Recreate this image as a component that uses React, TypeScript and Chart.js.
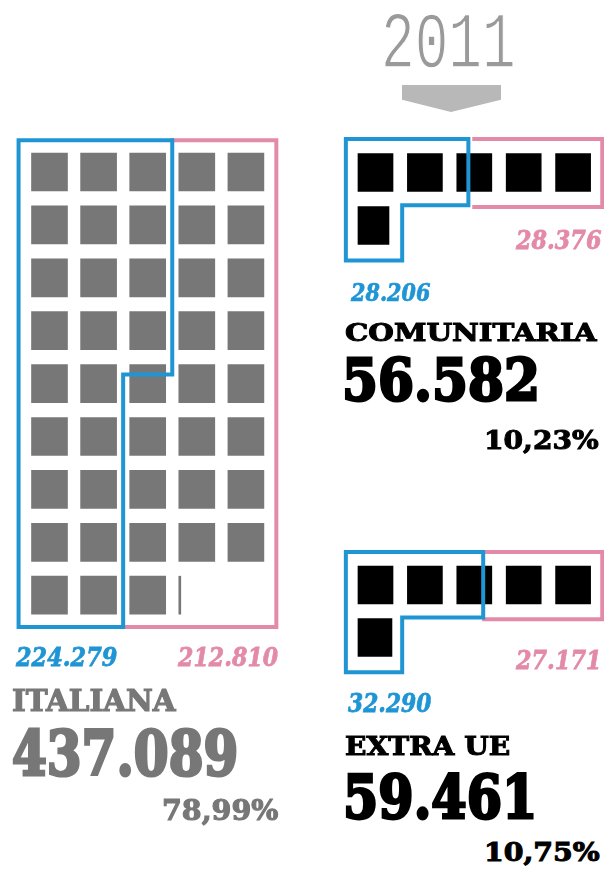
import React, { useEffect, useRef } from "react";
import { Chart, registerables } from "chart.js";

Chart.register(...registerables);

// ---------------- DATA ----------------
const YEAR = "2011";
const categories = ["ITALIANA", "COMUNITARIA", "EXTRA UE"];
const totals = [437089, 56582, 59461];
const blueValues = [224279, 28206, 32290];
const pinkValues = [212810, 28376, 27171];
const shares = [78.99, 10.23, 10.75];
// squares as drawn in the picture (1 square ≈ 10.000)
const squaresDrawn = [43.055, 5.885, 5.97];
const UNIT = 10000;
// blue/pink split along the first row of the two small waffles (in squares)
const splitRow1 = [2.38, 2.68];
const pinkStartRow1 = [2.5, 2.7];

// ---------------- STYLE ----------------
const BLUE = "#1f95d4";
const PINK = "#e38aa9";
const GRAY = "#777777";
const LIGHT = "#9a9a9a";
const SERIF = "'DejaVu Serif', serif";
const MONO = "'Liberation Mono', monospace";

const fmtInt = (n: number) => String(n).replace(/\B(?=(\d{3})+(?!\d))/g, ".");
const fmtPct = (v: number) => v.toFixed(2).replace(".", ",") + "%";

type Panel = {
  x0: number; ux: number; y0: number; uy: number;
  left: number; top: number; w: number; h: number;
  cols: number; sw: number; barPx: number; color: string;
};

const panels: Panel[] = [
  { x0: 24.95, ux: 49.1, y0: 145.55, uy: 52.9, left: 0, top: 120, w: 300, h: 530, cols: 5, sw: 0.733, barPx: 38, color: GRAY },
  { x0: 350.8, ux: 49.4, y0: 146, uy: 53, left: 330, top: 120, w: 274, h: 160, cols: 5, sw: 0.709, barPx: 38, color: "#000000" },
  { x0: 350.8, ux: 49.4, y0: 558.75, uy: 52.5, left: 330, top: 530, w: 274, h: 160, cols: 5, sw: 0.709, barPx: 38, color: "#000000" },
];

function squarePoints(n: number, p: Panel) {
  const pts: { x: [number, number]; y: number }[] = [];
  const inset = (1 - p.sw) / 2;
  for (let i = 0; i < Math.ceil(n); i++) {
    const frac = Math.min(1, n - i);
    const col = i % p.cols;
    const row = Math.floor(i / p.cols);
    pts.push({ x: [col + inset, col + inset + frac * p.sw], y: row + 0.5 });
  }
  return pts;
}

function outlines(idx: number) {
  if (idx === 0) {
    const L = -0.13, R = 5.12, T = -0.1, B = 9.1;
    const rows = 9;
    const cells = blueValues[0] / UNIT; // column-major
    const full = Math.floor(cells / rows);
    const rem = cells - full * rows;
    const blue = [
      { x: L, y: T }, { x: full + 1, y: T }, { x: full + 1, y: rem - 0.1 }, { x: full, y: rem - 0.1 },
      { x: full, y: B }, { x: L, y: B }, { x: L, y: T },
    ];
    const pink = [{ x: full + 1, y: T }, { x: R, y: T }, { x: R, y: B }, { x: full, y: B }];
    return { blue, pink };
  }
  const k = idx - 1;
  const L = -0.1, R = 5.09, T = -0.13, R1B = 1.12, INNER = 1.04, B = 2.16;
  const s = splitRow1[k];
  const ps = pinkStartRow1[k];
  const blue = [
    { x: L, y: T }, { x: s, y: T }, { x: s, y: R1B }, { x: INNER, y: R1B },
    { x: INNER, y: B }, { x: L, y: B }, { x: L, y: T },
  ];
  const pink = [{ x: ps, y: T }, { x: R, y: T }, { x: R, y: R1B + 0.03 }, { x: ps, y: R1B + 0.03 }];
  return { blue, pink };
}

function Waffle({ idx }: { idx: number }) {
  const ref = useRef<HTMLCanvasElement>(null);
  const p = panels[idx];
  useEffect(() => {
    const { blue, pink } = outlines(idx);
    const lineBase = {
      type: "line" as const,
      indexAxis: "x" as const,
      borderWidth: 4,
      pointRadius: 0,
      fill: false,
      tension: 0,
      borderJoinStyle: "miter" as const,
      borderCapStyle: "square" as const,
    };
    const chart = new Chart(ref.current!, {
      type: "bar",
      data: {
        datasets: [
          { ...lineBase, data: blue, borderColor: BLUE, order: 0 } as any,
          { ...lineBase, data: pink, borderColor: PINK, order: 1 } as any,
          {
            type: "bar",
            data: squarePoints(squaresDrawn[idx], p) as any,
            backgroundColor: p.color,
            borderWidth: 0,
            barThickness: p.barPx,
            grouped: false,
            order: 2,
          } as any,
        ],
      },
      options: {
        indexAxis: "y",
        animation: false,
        responsive: false,
        maintainAspectRatio: false,
        devicePixelRatio: 1,
        events: [],
        layout: { padding: 0 },
        plugins: { legend: { display: false }, tooltip: { enabled: false }, title: { display: false } },
        scales: {
          x: {
            type: "linear", display: false, offset: false,
            min: (p.left - p.x0) / p.ux, max: (p.left + p.w - p.x0) / p.ux,
          },
          y: {
            type: "linear", display: false, offset: false, reverse: true,
            min: (p.top - p.y0) / p.uy, max: (p.top + p.h - p.y0) / p.uy,
          },
        },
      } as any,
    });
    return () => chart.destroy();
  }, [idx]);
  return (
    <canvas
      ref={ref}
      width={p.w}
      height={p.h}
      style={{ position: "absolute", left: p.left, top: p.top, width: p.w, height: p.h }}
    />
  );
}

let measureCtx: CanvasRenderingContext2D | null = null;
function getCtx() {
  if (!measureCtx) measureCtx = document.createElement("canvas").getContext("2d");
  return measureCtx!;
}

type LabelSpec = {
  text: string; family: string; weight: number; italic: boolean; color: string;
  left: number; right: number; top: number; baseline: number; heavy: number;
};

function Label({ s }: { s: LabelSpec }) {
  const ctx = getCtx();
  const fontStyle = s.italic ? "italic" : "normal";
  ctx.font = `${fontStyle} ${s.weight} 100px ${s.family}`;
  const m = ctx.measureText(s.text);
  const inkAsc = m.actualBoundingBoxAscent / 100;
  const inkStart = -m.actualBoundingBoxLeft / 100;
  const inkW = (m.actualBoundingBoxRight + m.actualBoundingBoxLeft) / 100;
  const fAsc = (m as any).fontBoundingBoxAscent / 100;
  const fDesc = (m as any).fontBoundingBoxDescent / 100;
  const k = s.heavy;
  // k > 0: thicken with a same-colour stroke; k < 0: thin with a white stroke
  const size = (s.baseline - s.top) / (inkAsc + k);
  const sw = k * size;
  const base = s.baseline - sw / 2;
  const sx = (s.right - s.left) / (inkW * size + sw);
  const baseOff = ((1 - fAsc - fDesc) / 2 + fAsc) * size;
  const stroke = sw > 0 ? `${sw}px ${s.color}` : sw < 0 ? `${-sw * 2}px #ffffff` : undefined;
  return (
    <div
      style={{
        position: "absolute",
        left: s.left - (inkStart * size - sw / 2) * sx,
        top: base - baseOff,
        fontFamily: s.family,
        fontWeight: s.weight,
        fontStyle,
        fontSize: size,
        lineHeight: `${size}px`,
        whiteSpace: "nowrap",
        color: s.color,
        WebkitTextStroke: stroke,
        transform: `scaleX(${sx})`,
        transformOrigin: "0 0",
      }}
    >
      {s.text}
    </div>
  );
}

const B = "#000000";
const labels: LabelSpec[] = [
  { text: YEAR, family: MONO, weight: 400, italic: false, color: LIGHT, left: 385, right: 513, top: 13, baseline: 67, heavy: -0.009 },
  // ITALIANA
  { text: fmtInt(blueValues[0]), family: SERIF, weight: 700, italic: true, color: BLUE, left: 15, right: 117, top: 647, baseline: 667, heavy: 0.03 },
  { text: fmtInt(pinkValues[0]), family: SERIF, weight: 700, italic: true, color: PINK, left: 177, right: 278, top: 647, baseline: 667, heavy: 0.03 },
  { text: categories[0], family: SERIF, weight: 700, italic: false, color: GRAY, left: 13, right: 177, top: 689, baseline: 712, heavy: 0.04 },
  { text: fmtInt(totals[0]), family: SERIF, weight: 700, italic: false, color: GRAY, left: 13, right: 237, top: 728, baseline: 777, heavy: 0.05 },
  { text: fmtPct(shares[0]), family: SERIF, weight: 700, italic: false, color: GRAY, left: 163, right: 278, top: 800, baseline: 822, heavy: 0.04 },
  // COMUNITARIA
  { text: fmtInt(pinkValues[1]), family: SERIF, weight: 700, italic: true, color: PINK, left: 515, right: 601, top: 230, baseline: 250, heavy: 0.03 },
  { text: fmtInt(blueValues[1]), family: SERIF, weight: 700, italic: true, color: BLUE, left: 350, right: 430, top: 283, baseline: 302, heavy: 0.03 },
  { text: categories[1], family: SERIF, weight: 700, italic: false, color: B, left: 346, right: 598, top: 323, baseline: 342, heavy: 0.04 },
  { text: fmtInt(totals[1]), family: SERIF, weight: 700, italic: false, color: B, left: 345, right: 537, top: 357, baseline: 402, heavy: 0.05 },
  { text: fmtPct(shares[1]), family: SERIF, weight: 700, italic: false, color: B, left: 487, right: 599, top: 430, baseline: 450, heavy: 0.04 },
  // EXTRA UE
  { text: fmtInt(pinkValues[2]), family: SERIF, weight: 700, italic: true, color: PINK, left: 515, right: 598, top: 650, baseline: 670, heavy: 0.03 },
  { text: fmtInt(blueValues[2]), family: SERIF, weight: 700, italic: true, color: BLUE, left: 348, right: 432, top: 693, baseline: 713, heavy: 0.03 },
  { text: categories[2], family: SERIF, weight: 700, italic: false, color: B, left: 346, right: 510, top: 737, baseline: 757, heavy: 0.04 },
  { text: fmtInt(totals[2]), family: SERIF, weight: 700, italic: false, color: B, left: 346, right: 534, top: 773, baseline: 820, heavy: 0.05 },
  { text: fmtPct(shares[2]), family: SERIF, weight: 700, italic: false, color: B, left: 487, right: 600, top: 842, baseline: 862, heavy: 0.04 },
];

export default function App() {
  return (
    <div
      style={{
        position: "absolute",
        left: 0,
        top: 0,
        width: 604,
        height: 870,
        background: "#ffffff",
        overflow: "hidden",
      }}
    >
      <div
        style={{
          position: "absolute",
          left: 402,
          top: 85,
          width: 99,
          height: 27,
          background: "#b8b8b8",
          clipPath: "polygon(0 0, 100% 0, 100% 55%, 49.5% 100%, 0 55%)",
        }}
      />
      <Waffle idx={0} />
      <Waffle idx={1} />
      <Waffle idx={2} />
      {labels.map((s, i) => (
        <Label key={i} s={s} />
      ))}
    </div>
  );
}
